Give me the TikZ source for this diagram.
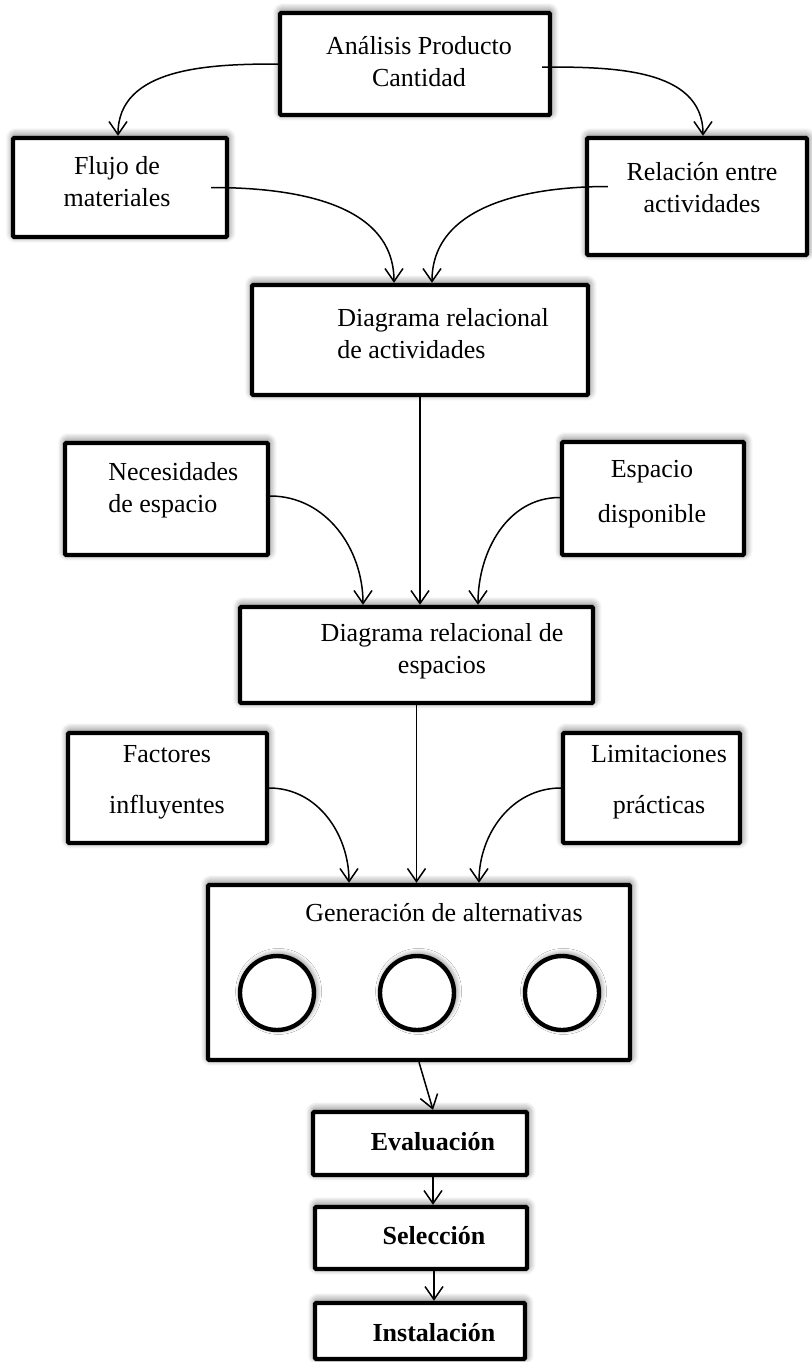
\documentclass[tikz,border=0pt]{standalone}
\usepackage{fontspec}
\setmainfont{Liberation Serif}
\usetikzlibrary{arrows.meta,shadows.blur}
\begin{document}
\begin{tikzpicture}[x=0.5pt,y=0.5pt,
 caja/.style 2 args={draw,line width=2.2pt,fill=white,rounded corners=0.6pt,inner sep=0pt,minimum width=#1,minimum height=#2,
   blur shadow={shadow xshift=0.4pt,shadow yshift=1pt,shadow blur radius=4pt,shadow blur steps=8,shadow opacity=65}},
 alt/.style={circle,draw,line width=2.2pt,fill=white,inner sep=0pt,minimum size=37pt,
   blur shadow={shadow xshift=0.8pt,shadow yshift=0.8pt,shadow blur radius=3pt,shadow blur steps=8,shadow opacity=60}},
 texto/.style={font=\fontsize{13}{16}\selectfont,align=center,inner sep=0pt},
 flecha/.style={line width=0.75pt,-{Straight Barb[length=6.5pt,width=9pt]}}]
\useasboundingbox (0,0) rectangle (811,-1362);
% cajas
\node[caja={135pt}{51pt}] (apc) at (415,-64) {};
\node[caja={107pt}{49.5pt}] (flujo) at (120,-187.5) {};
\node[caja={110pt}{58.5pt}] (rel) at (697,-196.5) {};
\node[caja={168pt}{55pt}] (act) at (420,-340) {};
\node[caja={101.5pt}{56pt}] (nec) at (166.5,-499) {};
\node[caja={91pt}{56.5pt}] (disp) at (653,-498.5) {};
\node[caja={176.5pt}{48pt}] (esp) at (416.5,-655) {};
\node[caja={99.5pt}{55pt}] (fac) at (167.5,-788) {};
\node[caja={88.5pt}{55pt}] (lim) at (651.5,-788) {};
\node[caja={211pt}{87.5pt}] (gen) at (419,-972.5) {};
\node[caja={107pt}{31.5pt}] (eva) at (420,-1143.5) {};
\node[caja={106pt}{31pt}] (sel) at (421,-1238) {};
\node[caja={105pt}{28pt}] (ins) at (420,-1331) {};
\node[alt] (c1) at (277,-993) {}; \node[alt] (c2) at (417,-993) {}; \node[alt] (c3) at (562,-993) {};
% textos
\node[texto] (t-apc) at (419,-62) {Análisis Producto\\Cantidad};
\node[texto] (t-flujo) at (117,-182) {Flujo de\\materiales};
\node[texto] (t-rel) at (702,-188) {Relación entre\\actividades};
\node[texto,align=left,anchor=west] (t-act) at (337,-333.5) {Diagrama relacional\\ de actividades};
\node[texto,align=left,anchor=west] (t-nec) at (108,-490) {Necesidades\\de espacio};
\node[texto] (t-disp) at (652,-494.5) {Espacio\\[6.5pt]disponible};
\node[texto] (t-esp) at (442,-651) {Diagrama relacional de\\espacios};
\node[texto] (t-fac) at (167,-782) {Factores\\[9.5pt]influyentes};
\node[texto] (t-lim) at (659,-782) {Limitaciones\\[9.5pt]prácticas};
\node[texto] (t-gen) at (444,-913) {Generación de alternativas};
\node[texto,font=\fontsize{13}{16}\selectfont\bfseries] (t-eva) at (433,-1142) {Evaluación};
\node[texto,font=\fontsize{13}{16}\selectfont\bfseries] (t-sel) at (434,-1236) {Selección};
\node[texto,font=\fontsize{13}{16}\selectfont\bfseries] (t-ins) at (434,-1333) {Instalación};
% flechas
\draw[flecha] (apc.west) to[out=180,in=90] ([shift={(-2,0)}]flujo.north);
\draw[flecha] ([shift={(-10,-3)}]apc.east) to[out=0,in=90] ([shift={(6,0)}]rel.north);
\draw[flecha] ([shift={(-18,0)}]flujo.east) to[out=0,in=90] ([shift={(-26,0)}]act.north);
\draw[flecha] ([shift={(23,10)}]rel.west) to[out=180,in=90] ([shift={(12,0)}]act.north);
\draw[flecha] (act.south) -- (act.south |- esp.north);
\draw[flecha] ([shift={(0,3)}]nec.east) to[out=0,in=90] ([shift={(-53.5,0)}]esp.north);
\draw[flecha] ([shift={(0,1)}]disp.west) to[out=180,in=90] ([shift={(61.5,0)}]esp.north);
\draw[flecha] (esp.south) -- (esp.south |- gen.north);
\draw[flecha] (fac.east) to[out=0,in=90] ([shift={(-70,0)}]gen.north);
\draw[flecha] (lim.west) to[out=180,in=90] ([shift={(60,0)}]gen.north);
\draw[flecha] (gen.south) -- ([shift={(13,0)}]eva.north);
\draw[flecha] ([shift={(13,0)}]eva.south) -- ([shift={(12,0)}]sel.north);
\draw[flecha] ([shift={(13,0)}]sel.south) -- ([shift={(14,0)}]ins.north);
\end{tikzpicture}
\end{document}
